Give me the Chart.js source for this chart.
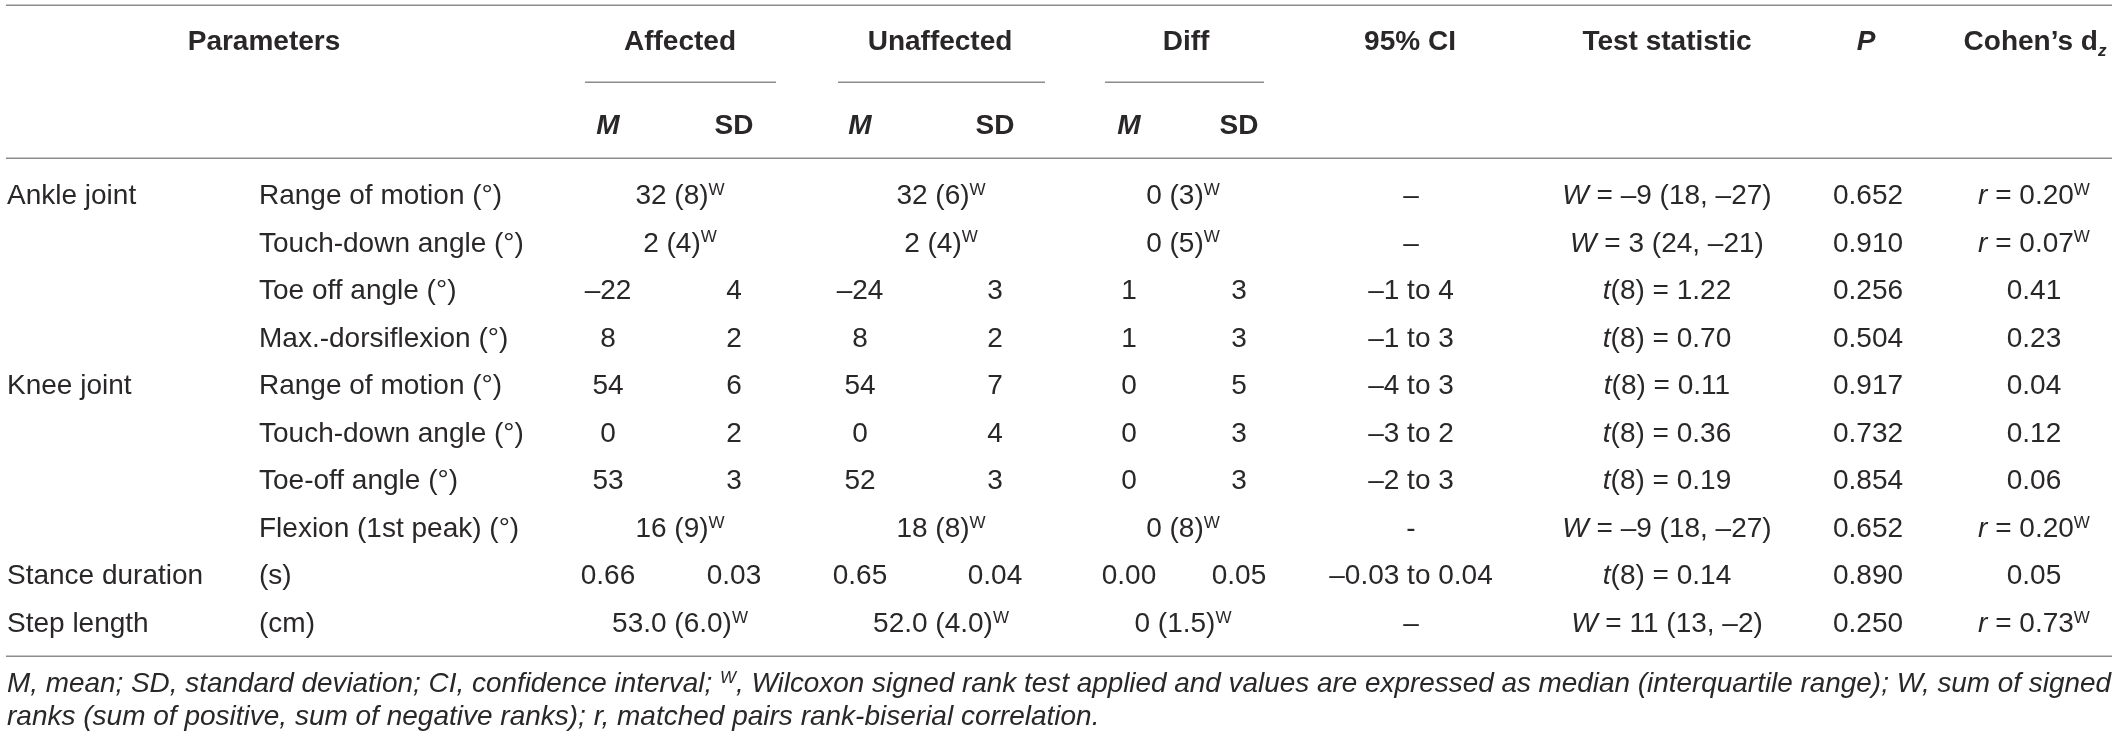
<!DOCTYPE html>
<html lang="en">
<head>
  <meta charset="UTF-8" />
  <title>Gait parameters | Affected vs Unaffected</title>
  <script src="https://cdn.jsdelivr.net/npm/chart.js"></script>
  <style>
    html, body { margin: 0; padding: 0; background: #fff; }
    .table-wrap { width: 2118px; height: 743px; position: relative; }
  </style>
</head>
<body>
  <div class="table-wrap">
    <canvas id="paramTable"></canvas>
  </div>

  <script>
    // Table content. Markup: *..* italic, ^X superscript char, _X subscript char
    const groups = ['Ankle joint', '', '', '', 'Knee joint', '', '', '', 'Stance duration', 'Step length'];
    const parameters = ['Range of motion (°)', 'Touch-down angle (°)', 'Toe off angle (°)', 'Max.-dorsiflexion (°)',
      'Range of motion (°)', 'Touch-down angle (°)', 'Toe-off angle (°)', 'Flexion (1st peak) (°)', '(s)', '(cm)'];

    const affectedM = ['32 (8)^W', '2 (4)^W', '–22', '8', '54', '0', '53', '16 (9)^W', '0.66', '53.0 (6.0)^W'];
    const affectedSD = [null, null, '4', '2', '6', '2', '3', null, '0.03', null];
    const unaffectedM = ['32 (6)^W', '2 (4)^W', '–24', '8', '54', '0', '52', '18 (8)^W', '0.65', '52.0 (4.0)^W'];
    const unaffectedSD = [null, null, '3', '2', '7', '4', '3', null, '0.04', null];
    const diffM = ['0 (3)^W', '0 (5)^W', '1', '1', '0', '0', '0', '0 (8)^W', '0.00', '0 (1.5)^W'];
    const diffSD = [null, null, '3', '3', '5', '3', '3', null, '0.05', null];
    const ci95 = ['–', '–', '–1 to 4', '–1 to 3', '–4 to 3', '–3 to 2', '–2 to 3', '-', '–0.03 to 0.04', '–'];
    const testStat = ['*W* = –9 (18, –27)', '*W* = 3 (24, –21)', '*t*(8) = 1.22', '*t*(8) = 0.70', '*t*(8) = 0.11',
      '*t*(8) = 0.36', '*t*(8) = 0.19', '*W* = –9 (18, –27)', '*t*(8) = 0.14', '*W* = 11 (13, –2)'];
    const pValue = ['0.652', '0.910', '0.256', '0.504', '0.917', '0.732', '0.854', '0.652', '0.890', '0.250'];
    const cohenD = ['*r* = 0.20^W', '*r* = 0.07^W', '0.41', '0.23', '0.04', '0.12', '0.06', '*r* = 0.20^W', '0.05', '*r* = 0.73^W'];

    const headerGroups = ['Parameters', 'Affected', 'Unaffected', 'Diff', '95% CI', 'Test statistic', '*P*', 'Cohen’s d*_z*'];
    const subHeaders = ['*M*', 'SD', '*M*', 'SD', '*M*', 'SD'];
    const footnote = [
      'M, mean; SD, standard deviation; CI, confidence interval; ^W, Wilcoxon signed rank test applied and values are expressed as median (interquartile range); W, sum of signed',
      'ranks (sum of positive, sum of negative ranks); r, matched pairs rank-biserial correlation.'
    ];

    // layout (x in px, y in row units: body row i sits at i)
    const FONT = '"Liberation Sans", Arial, Helvetica, sans-serif';
    const TEXT_COLOR = '#2a2728';
    const RULE_COLOR = '#8c8c8c';
    const SIZE = 28;
    const ROW_PX = 47.55, FIRST_ROW_PX = 194, HEIGHT = 743, WIDTH = 2118;

    const COL = { group: 7, param: 259, aM: 608, aSD: 734, uM: 860, uSD: 995, dM: 1129, dSD: 1239,
      ci: 1411, test: 1667, p: 1868, cohen: 2034 };
    const SPAN = { aM: 680, uM: 941, dM: 1183 };
    const headerX = [264, 680, 940, 1186, 1410, 1667, 1866, 2035];
    const subHeaderX = [COL.aM, COL.aSD, COL.uM, COL.uSD, COL.dM, COL.dSD];
    const subRules = [[585, 776], [838, 1045], [1105, 1264]];
    const RULE_X = [6, 2112];
    const FOOT_MAX_W = 2104;
    const ROW = { topRule: -3.968, header: -3.238, subRule: -2.355, sub: -1.472, headRule: -0.757,
      bottomRule: 9.716, foot1: 10.263, foot2: 10.957 };

    const bodyColumns = [
      { key: 'group', values: groups, align: 'left' },
      { key: 'param', values: parameters, align: 'left' },
      { key: 'aM', values: affectedM, pair: affectedSD },
      { key: 'aSD', values: affectedSD },
      { key: 'uM', values: unaffectedM, pair: unaffectedSD },
      { key: 'uSD', values: unaffectedSD },
      { key: 'dM', values: diffM, pair: diffSD },
      { key: 'dSD', values: diffSD },
      { key: 'ci', values: ci95 },
      { key: 'test', values: testStat },
      { key: 'p', values: pValue },
      { key: 'cohen', values: cohenD }
    ];

    function parseRich(str, italic0) {
      const runs = [];
      let italic = italic0;
      for (let i = 0; i < str.length; i++) {
        const c = str[i];
        if (c === '*') { italic = !italic; continue; }
        if (c === '^' || c === '_') { runs.push({ t: str[i + 1], italic, kind: c }); i++; continue; }
        const last = runs[runs.length - 1];
        if (last && last.kind === 'n' && last.italic === italic) last.t += c;
        else runs.push({ t: c, italic, kind: 'n' });
      }
      return runs;
    }

    function drawRich(ctx, str, x, y, opts) {
      const size = opts.size || SIZE;
      const runs = parseRich(str, !!opts.italic);
      const fontOf = r => (r.italic ? 'italic ' : '') + (opts.bold ? 'bold ' : '') +
        (r.kind === 'n' ? size : Math.round(size * 0.6)) + 'px ' + FONT;
      let total = 0;
      runs.forEach(r => { ctx.font = fontOf(r); r.w = ctx.measureText(r.t).width; total += r.w; });
      // squeeze a line that is too long for its slot
      const sx = opts.maxWidth && total > opts.maxWidth ? opts.maxWidth / total : 1;
      let cx = opts.align === 'left' ? x : x - total * sx / 2;
      const base = y + size * 0.36;
      runs.forEach(r => {
        ctx.font = fontOf(r);
        const dy = r.kind === '^' ? -size * 0.33 : r.kind === '_' ? size * 0.2 : 0;
        ctx.save();
        ctx.translate(cx, base + dy);
        ctx.scale(sx, 1);
        ctx.fillText(r.t, 0, 0);
        ctx.restore();
        cx += r.w * sx;
      });
    }

    const tablePlugin = {
      id: 'tableText',
      afterDatasetsDraw(chart) {
        const ctx = chart.ctx;
        const xs = chart.scales.x, ys = chart.scales.y;
        ctx.save();
        ctx.fillStyle = TEXT_COLOR;
        ctx.textBaseline = 'alphabetic';

        // rules
        ctx.strokeStyle = RULE_COLOR;
        ctx.lineWidth = 1.5;
        const hline = (x0, x1, row) => {
          const py = Math.round(ys.getPixelForValue(row)) + 0.25;
          ctx.beginPath();
          ctx.moveTo(xs.getPixelForValue(x0), py);
          ctx.lineTo(xs.getPixelForValue(x1), py);
          ctx.stroke();
        };
        hline(RULE_X[0], RULE_X[1], ROW.topRule);
        hline(RULE_X[0], RULE_X[1], ROW.headRule);
        hline(RULE_X[0], RULE_X[1], ROW.bottomRule);
        subRules.forEach(s => hline(s[0], s[1], ROW.subRule));

        // header
        headerGroups.forEach((h, i) => {
          drawRich(ctx, h, xs.getPixelForValue(headerX[i]), ys.getPixelForValue(ROW.header), { bold: true });
        });
        subHeaders.forEach((h, i) => {
          drawRich(ctx, h, xs.getPixelForValue(subHeaderX[i]), ys.getPixelForValue(ROW.sub), { bold: true });
        });

        // body cells, placed at each dataset point
        chart.data.datasets.forEach((ds, i) => {
          chart.getDatasetMeta(i).data.forEach((pt, j) => {
            const t = ds.texts[j];
            if (t == null || t === '') return;
            drawRich(ctx, t, pt.x, pt.y, { align: ds.align });
          });
        });

        // footnote
        [ROW.foot1, ROW.foot2].forEach((row, i) => {
          drawRich(ctx, footnote[i], xs.getPixelForValue(COL.group), ys.getPixelForValue(row),
            { italic: true, align: 'left', maxWidth: FOOT_MAX_W });
        });
        ctx.restore();
      }
    };

    const datasets = bodyColumns.map(col => ({
      label: col.key,
      texts: col.values,
      align: col.align || 'center',
      data: col.values.map((v, i) => ({
        x: col.pair && col.pair[i] == null ? SPAN[col.key] : COL[col.key],
        y: i
      })),
      pointRadius: 0,
      showLine: false
    }));

    new Chart(document.getElementById('paramTable'), {
      type: 'scatter',
      data: { datasets },
      options: {
        responsive: true,
        maintainAspectRatio: false,
        animation: false,
        events: [],
        layout: { padding: 0 },
        plugins: { legend: { display: false }, tooltip: { enabled: false } },
        scales: {
          x: { type: 'linear', display: false, min: 0, max: WIDTH },
          y: { type: 'linear', display: false, reverse: true,
               min: -FIRST_ROW_PX / ROW_PX, max: (HEIGHT - FIRST_ROW_PX) / ROW_PX }
        }
      },
      plugins: [tablePlugin]
    });
  </script>
</body>
</html>
